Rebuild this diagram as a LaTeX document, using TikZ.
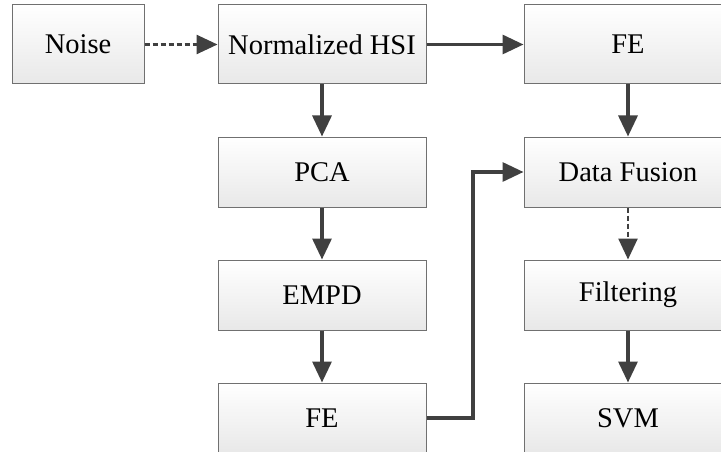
\documentclass[tikz,border=0pt]{standalone}
\usepackage{fontspec}
\setmainfont{Liberation Serif}
\usetikzlibrary{arrows.meta}
\definecolor{arrowc}{HTML}{404040}
\definecolor{borderc}{HTML}{707070}
\begin{document}
\begin{tikzpicture}[x=1pt,y=-1pt,
  box/.style={draw=borderc,line width=1pt,top color=white,bottom color=black!9,
    minimum width=208pt,minimum height=70pt,inner sep=0pt,
    font=\fontsize{28.5}{31}\selectfont},
  tall/.style={minimum height=79pt},
  conn/.style={draw=arrowc,line width=3.2pt,-{Triangle[length=21pt,width=19pt]}},
  dconn/.style={draw=arrowc,line width=2.6pt,dash pattern=on 5pt off 3pt,-{Triangle[length=21pt,width=19pt]}}]
\useasboundingbox (0,0) rectangle (721,452);
\clip (0,0) rectangle (721,452);
\fill[white] (0,0) rectangle (721,452);
\node[box,tall,minimum width=132pt] (noise) at (78,44.5) {Noise};
\node[box,tall] (hsi) at (322,44.5) {Normalized HSI};
\node[box,tall] (fe1) at (628,44.5) {FE};
\node[box] (pca) at (322,172) {PCA};
\node[box] (empd) at (322,295) {EMPD};
\node[box] (fe2) at (322,418) {FE};
\node[box] (fus) at (628,172) {Data Fusion};
\node[box] (filt) at (628,295) {Filtering};
\node[box] (svm) at (628,418) {SVM};
\coordinate (bend) at (473,0);
\draw[dconn] (noise) -- (hsi);
\draw[conn] (hsi) -- (fe1);
\draw[conn] (hsi) -- (pca);
\draw[conn] (pca) -- (empd);
\draw[conn] (empd) -- (fe2);
\draw[conn] (fe1) -- (fus);
\draw[conn,line join=miter] (fe2.east) -| (bend |- fus.west) -- (fus.west);
\draw[dconn] (fus) -- (filt);
\draw[conn] (filt) -- (svm);
\end{tikzpicture}
\end{document}
